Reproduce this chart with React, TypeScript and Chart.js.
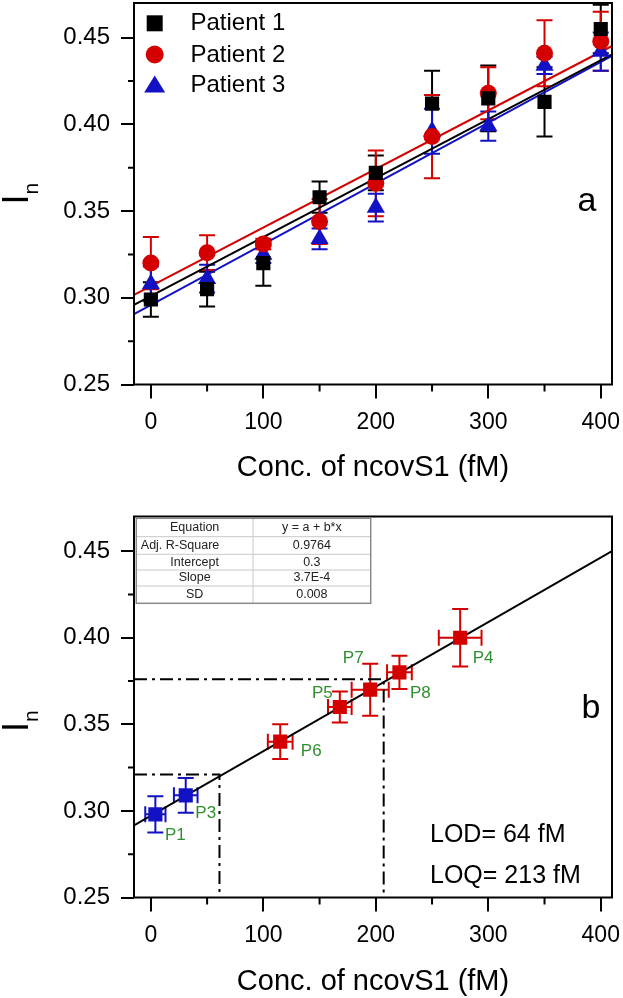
import React, { useEffect, useRef } from 'react';
import { Chart, registerables } from 'chart.js';

Chart.register(...registerables);

const FONT = '"Liberation Sans", Arial, Helvetica, sans-serif';

// ---------- Panel a data ----------
const concA = [0, 50, 100, 150, 200, 250, 300, 350, 400];
const patient1 = [0.299, 0.305, 0.320, 0.358, 0.372, 0.412, 0.415, 0.413, 0.455];
const patient1Err = [0.010, 0.010, 0.013, 0.009, 0.010, 0.019, 0.019, 0.020, 0.014];
const patient2 = [0.320, 0.326, 0.331, 0.344, 0.366, 0.393, 0.418, 0.441, 0.448];
const patient2Err = [0.015, 0.010, 0.003, 0.013, 0.019, 0.024, 0.015, 0.019, 0.017];
const patient3 = [0.308, 0.311, 0.325, 0.334, 0.352, 0.396, 0.399, 0.434, 0.442];
const patient3Err = [0.010, 0.008, 0.005, 0.006, 0.008, 0.013, 0.0085, 0.005, 0.011];
const fitXA = [-15, 410];
const fit1 = [0.2959, 0.4404];
const fit2 = [0.3017, 0.4452];
const fit3 = [0.2906, 0.4395];
const legendNames = ['Patient 1', 'Patient 2', 'Patient 3'];

// ---------- Panel b data ----------
const blueLabels = ['P1', 'P3'];
const blueConc = [4, 31];
const blueConcErr = [9, 10.5];
const blueIn = [0.298, 0.309];
const blueInErr = [0.0105, 0.010];
const redLabels = ['P6', 'P5', 'P7', 'P8', 'P4'];
const redConc = [115, 168, 195, 221, 275];
const redConcErr = [11, 10.5, 16.5, 11, 19];
const redIn = [0.340, 0.360, 0.370, 0.380, 0.400];
const redInErr = [0.010, 0.009, 0.015, 0.0096, 0.0166];
const fitXB = [-15, 410];
const fitB = [0.2916, 0.4500];
const lodLineX = [-15, 61, 61];
const lodLineY = [0.321, 0.321, 0.25];
const loqLineX = [-15, 207, 207];
const loqLineY = [0.376, 0.376, 0.25];
const tableKeys = ['Equation', 'Adj. R-Square', 'Intercept', 'Slope', 'SD'];
const tableVals = ['y = a + b*x', '0.9764', '0.3', '3.7E-4', '0.008'];
const lodText = 'LOD= 64 fM';
const loqText = 'LOQ= 213 fM';

// axis ranges / ticks
const X_MIN = -15;
const X_MAX = 410;
const Y_MIN = 0.25;
const Y_MAX = 0.47;
const X_STEP = 100;
const Y_STEP = 0.05;
const xMinor = [50, 150, 250, 350];
const yMinor = [0.275, 0.325, 0.375, 0.425];
const xTitle = 'Conc. of ncovS1 (fM)';

// styles
const BLACK = '#000000';
const RED = '#d40000';
const BLUE = '#1212c4';
const GREEN = '#2f8f2f';

// top canvas is shifted up by TOP_SHIFT px so its chart area starts at page y = 3
const TOP_SHIFT = 9;

const pts = (xs: number[], ys: number[]) => xs.map((x, i) => ({ x, y: ys[i] }));

function makeScales(xHeight: number, titleBottom: number) {
  return {
    x: {
      type: 'linear',
      min: X_MIN,
      max: X_MAX,
      afterFit: (s: any) => { s.height = xHeight; s.paddingLeft = 0; s.paddingRight = 0; },
      grid: { display: true, drawOnChartArea: false, drawTicks: true, tickLength: 14, color: BLACK, lineWidth: 2 },
      border: { display: false },
      ticks: {
        stepSize: X_STEP, includeBounds: false, padding: 10, color: BLACK, maxRotation: 0, autoSkip: false,
        font: { family: FONT, size: 23 },
      },
      title: {
        display: true, text: xTitle, color: BLACK,
        font: { family: FONT, size: 29 },
        padding: { top: 0, bottom: titleBottom },
      },
    },
    y: {
      type: 'linear',
      min: Y_MIN,
      max: Y_MAX,
      afterFit: (s: any) => { s.width = 134; s.paddingTop = 0; s.paddingBottom = 0; },
      grid: { display: true, drawOnChartArea: false, drawTicks: true, tickLength: 13, color: BLACK, lineWidth: 2 },
      border: { display: false },
      ticks: {
        stepSize: Y_STEP, includeBounds: false, padding: 11, color: BLACK, autoSkip: false,
        font: { family: FONT, size: 24 },
        callback: (v: any) => Number(v).toFixed(2),
      },
    },
  };
}

function framePlugin(yTitleX: number, yTitleY: number) {
  return {
    id: 'frame',
    afterDraw(chart: any) {
      const { ctx, chartArea: a, scales } = chart;
      ctx.save();
      ctx.strokeStyle = BLACK;
      ctx.lineWidth = 2;
      ctx.strokeRect(a.left, a.top, a.right - a.left, a.bottom - a.top);
      ctx.beginPath();
      xMinor.forEach((v) => {
        const px = scales.x.getPixelForValue(v);
        ctx.moveTo(px, a.bottom);
        ctx.lineTo(px, a.bottom + 7);
      });
      yMinor.forEach((v) => {
        const py = scales.y.getPixelForValue(v);
        ctx.moveTo(a.left, py);
        ctx.lineTo(a.left - 6, py);
      });
      ctx.stroke();
      // y-axis title I with subscript n
      ctx.translate(yTitleX, yTitleY);
      ctx.rotate(-Math.PI / 2);
      ctx.fillStyle = BLACK;
      ctx.textBaseline = 'alphabetic';
      ctx.textAlign = 'left';
      ctx.font = `36px ${FONT}`;
      ctx.fillText('I', 0, 0);
      const w = ctx.measureText('I').width;
      ctx.font = `21px ${FONT}`;
      ctx.fillText('n', w, 10);
      ctx.restore();
    },
  };
}

const errorBarPlugin = {
  id: 'errorBars',
  beforeDatasetsDraw(chart: any) {
    const { ctx, chartArea: a, scales } = chart;
    const sx = scales.x;
    const sy = scales.y;
    ctx.save();
    ctx.beginPath();
    ctx.rect(a.left, a.top, a.right - a.left, a.bottom - a.top);
    ctx.clip();
    chart.data.datasets.forEach((ds: any) => {
      if (!ds.yErr && !ds.xErr) return;
      ctx.strokeStyle = ds.errColor;
      ctx.lineWidth = 2;
      const cap = 8;
      ds.data.forEach((p: any, i: number) => {
        const px = sx.getPixelForValue(p.x);
        const py = sy.getPixelForValue(p.y);
        ctx.beginPath();
        if (ds.yErr) {
          const t = sy.getPixelForValue(p.y + ds.yErr[i]);
          const b = sy.getPixelForValue(p.y - ds.yErr[i]);
          ctx.moveTo(px, t); ctx.lineTo(px, b);
          ctx.moveTo(px - cap, t); ctx.lineTo(px + cap, t);
          ctx.moveTo(px - cap, b); ctx.lineTo(px + cap, b);
        }
        if (ds.xErr) {
          const l = sx.getPixelForValue(p.x - ds.xErr[i]);
          const r = sx.getPixelForValue(p.x + ds.xErr[i]);
          ctx.moveTo(l, py); ctx.lineTo(r, py);
          ctx.moveTo(l, py - cap); ctx.lineTo(l, py + cap);
          ctx.moveTo(r, py - cap); ctx.lineTo(r, py + cap);
        }
        ctx.stroke();
      });
    });
    ctx.restore();
  },
};

const legendPlugin = {
  id: 'customLegend',
  afterDraw(chart: any) {
    const { ctx, chartArea: a } = chart;
    const mx = a.left + 20.7;
    const rows = [20.3, 51.5, 81.5].map((d) => a.top + d);
    ctx.save();
    // square
    ctx.fillStyle = BLACK;
    ctx.fillRect(mx - 8, rows[0] - 8, 16, 16);
    // circle
    ctx.fillStyle = RED;
    ctx.beginPath();
    ctx.arc(mx, rows[1], 9, 0, Math.PI * 2);
    ctx.fill();
    // triangle
    ctx.fillStyle = BLUE;
    ctx.beginPath();
    ctx.moveTo(mx, rows[2] - 9);
    ctx.lineTo(mx + 10.5, rows[2] + 8);
    ctx.lineTo(mx - 10.5, rows[2] + 8);
    ctx.closePath();
    ctx.fill();
    ctx.fillStyle = BLACK;
    ctx.font = `24px ${FONT}`;
    ctx.textBaseline = 'middle';
    ctx.textAlign = 'left';
    legendNames.forEach((n, i) => ctx.fillText(n, a.left + 56.5, rows[i] + 0.5));
    // panel letter
    ctx.font = `34px ${FONT}`;
    ctx.textAlign = 'center';
    ctx.fillText('a', a.right - 25, a.top + 199);
    ctx.restore();
  },
};

const labelOffsetsBlue = [[20, 21], [20, 18]];
const labelOffsetsRed = [[31, 10], [-17.5, -14], [-17, -31], [21, 21], [23, 21]];

const annotationPlugin = {
  id: 'annotationsB',
  afterDraw(chart: any) {
    const { ctx, chartArea: a, scales } = chart;
    const sx = scales.x;
    const sy = scales.y;
    ctx.save();
    // point labels
    ctx.fillStyle = GREEN;
    ctx.font = `17px ${FONT}`;
    ctx.textAlign = 'center';
    ctx.textBaseline = 'middle';
    blueLabels.forEach((l, i) => {
      const px = sx.getPixelForValue(blueConc[i]);
      const py = sy.getPixelForValue(blueIn[i]);
      ctx.fillText(l, px + labelOffsetsBlue[i][0], py + labelOffsetsBlue[i][1]);
    });
    redLabels.forEach((l, i) => {
      const px = sx.getPixelForValue(redConc[i]);
      const py = sy.getPixelForValue(redIn[i]);
      ctx.fillText(l, px + labelOffsetsRed[i][0], py + labelOffsetsRed[i][1]);
    });
    // LOD / LOQ
    ctx.fillStyle = BLACK;
    ctx.font = `25px ${FONT}`;
    ctx.textAlign = 'left';
    ctx.fillText(lodText, a.left + 296, a.top + 319);
    ctx.fillText(loqText, a.left + 296, a.top + 360);
    // panel letter
    ctx.font = `34px ${FONT}`;
    ctx.textAlign = 'center';
    ctx.fillText('b', a.right - 21, a.top + 192);
    // table
    const x0 = a.left + 2.3;
    const x1 = a.left + 119;
    const x2 = a.left + 236.7;
    const rowsY = [1.8, 20.2, 37.8, 53.5, 69.5, 86.8].map((d) => a.top + d);
    ctx.fillStyle = '#ffffff';
    ctx.fillRect(x0, rowsY[0], x2 - x0, rowsY[5] - rowsY[0]);
    ctx.strokeStyle = '#c8c8c8';
    ctx.lineWidth = 1;
    ctx.beginPath();
    for (let i = 1; i < 5; i++) {
      ctx.moveTo(x0, rowsY[i]);
      ctx.lineTo(x2, rowsY[i]);
    }
    ctx.moveTo(x1, rowsY[0]);
    ctx.lineTo(x1, rowsY[5]);
    ctx.stroke();
    ctx.strokeStyle = '#8a8a8a';
    ctx.lineWidth = 1.5;
    ctx.strokeRect(x0, rowsY[0], x2 - x0, rowsY[5] - rowsY[0]);
    ctx.fillStyle = '#222222';
    ctx.font = `12.5px ${FONT}`;
    ctx.textBaseline = 'middle';
    tableKeys.forEach((k, i) => {
      const cy = (rowsY[i] + rowsY[i + 1]) / 2;
      if (k === 'Adj. R-Square') {
        ctx.textAlign = 'left';
        ctx.fillText(k, x0 + 4.5, cy);
      } else {
        ctx.textAlign = 'center';
        ctx.fillText(k, (x0 + x1) / 2, cy);
      }
      ctx.textAlign = 'center';
      ctx.fillText(tableVals[i], (x1 + x2) / 2, cy);
    });
    ctx.restore();
  },
};

export default function App() {
  const topRef = useRef<HTMLCanvasElement>(null);
  const botRef = useRef<HTMLCanvasElement>(null);

  useEffect(() => {
    const base = {
      animation: false,
      responsive: false,
      devicePixelRatio: 1,
      events: [],
      plugins: { legend: { display: false }, tooltip: { enabled: false } },
    };

    const cA = new Chart(topRef.current as HTMLCanvasElement, {
      type: 'scatter',
      data: {
        datasets: [
          { label: legendNames[0], data: pts(concA, patient1), pointStyle: 'rect', pointRadius: 10, backgroundColor: BLACK, borderColor: BLACK, borderWidth: 0, yErr: patient1Err, errColor: BLACK } as any,
          { label: legendNames[1], data: pts(concA, patient2), pointStyle: 'circle', pointRadius: 8.5, backgroundColor: RED, borderColor: RED, borderWidth: 0, yErr: patient2Err, errColor: RED } as any,
          { label: legendNames[2], data: pts(concA, patient3), pointStyle: 'triangle', pointRadius: 10.5, backgroundColor: BLUE, borderColor: BLUE, borderWidth: 0, yErr: patient3Err, errColor: BLUE } as any,
          { label: 'fit1', data: pts(fitXA, fit1), showLine: true, pointRadius: 0, borderColor: BLACK, borderWidth: 2 },
          { label: 'fit2', data: pts(fitXA, fit2), showLine: true, pointRadius: 0, borderColor: RED, borderWidth: 2 },
          { label: 'fit3', data: pts(fitXA, fit3), showLine: true, pointRadius: 0, borderColor: BLUE, borderWidth: 2 },
        ],
      },
      options: {
        ...base,
        layout: { padding: { top: 3 + TOP_SHIFT, right: 11, left: 0, bottom: 0 } },
        scales: makeScales(115.5, 15) as any,
      } as any,
      plugins: [errorBarPlugin, framePlugin(28.3, 204.5 + TOP_SHIFT), legendPlugin],
    });

    const cB = new Chart(botRef.current as HTMLCanvasElement, {
      type: 'scatter',
      data: {
        datasets: [
          { label: 'blue', data: pts(blueConc, blueIn), pointStyle: 'rect', pointRadius: 10, backgroundColor: BLUE, borderColor: BLUE, borderWidth: 0, yErr: blueInErr, xErr: blueConcErr, errColor: BLUE } as any,
          { label: 'red', data: pts(redConc, redIn), pointStyle: 'rect', pointRadius: 10, backgroundColor: RED, borderColor: RED, borderWidth: 0, yErr: redInErr, xErr: redConcErr, errColor: RED } as any,
          { label: 'fit', data: pts(fitXB, fitB), showLine: true, pointRadius: 0, borderColor: BLACK, borderWidth: 2 },
          { label: 'LOD', data: pts(lodLineX, lodLineY), showLine: true, pointRadius: 0, borderColor: BLACK, borderWidth: 2, borderDash: [13, 5, 3, 5] },
          { label: 'LOQ', data: pts(loqLineX, loqLineY), showLine: true, pointRadius: 0, borderColor: BLACK, borderWidth: 2, borderDash: [13, 5, 3, 5] },
        ],
      },
      options: {
        ...base,
        layout: { padding: { top: 16.5, right: 11, left: 0, bottom: 0 } },
        scales: makeScales(100.5, -1) as any,
      } as any,
      plugins: [errorBarPlugin, framePlugin(28.3, 232), annotationPlugin],
    });

    return () => {
      cA.destroy();
      cB.destroy();
    };
  }, []);

  return (
    <div style={{ position: 'absolute', left: 0, top: 0, width: 623, height: 998, background: '#ffffff', overflow: 'hidden' }}>
      <canvas ref={topRef} width={623} height={500 + TOP_SHIFT} style={{ display: 'block', width: 623, height: 500 + TOP_SHIFT, marginTop: -TOP_SHIFT }} />
      <canvas ref={botRef} width={623} height={498} style={{ display: 'block', width: 623, height: 498 }} />
    </div>
  );
}
